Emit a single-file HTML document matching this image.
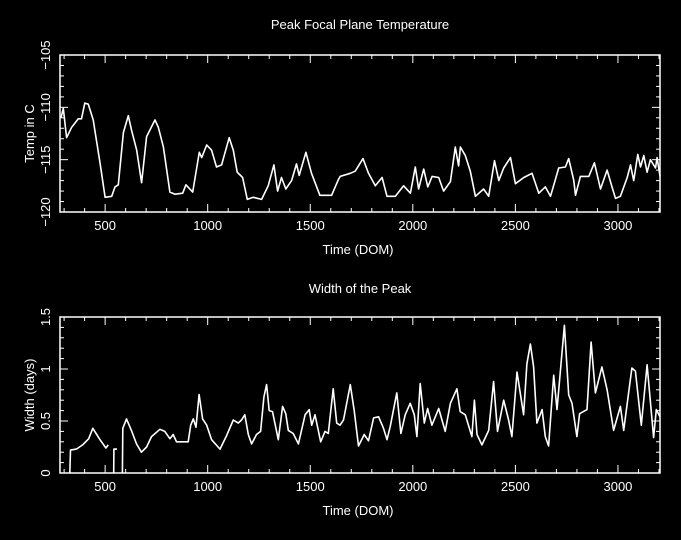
<!DOCTYPE html>
<html><head><meta charset="utf-8"><style>
html,body{margin:0;padding:0;background:#000;}
svg{display:block;font-family:"Liberation Sans","DejaVu Sans",sans-serif;}
</style></head><body>
<svg id="chart" width="681" height="540" xmlns="http://www.w3.org/2000/svg">
<rect width="681" height="540" fill="#000"/>
</svg>
<script>
const tempDom=[285,296,312,337,369,385,401,418,442,475,500,532,548,564,589,613,629,654,678,702,743,759,784,816,841,878,894,927,959,971,995,1019,1043,1068,1105,1125,1144,1170,1193,1222,1263,1295,1323,1341,1360,1381,1409,1433,1446,1479,1506,1547,1604,1637,1646,1695,1719,1757,1784,1817,1850,1874,1915,1955,1988,2012,2028,2053,2073,2094,2126,2150,2183,2207,2223,2232,2256,2280,2305,2345,2370,2398,2419,2443,2476,2500,2541,2581,2614,2646,2671,2711,2744,2760,2785,2793,2817,2858,2885,2915,2947,2971,2988,3012,3045,3061,3077,3097,3110,3126,3142,3158,3183,3191,3205];
const tempVal=[-111.0,-110.1,-112.9,-111.9,-111.1,-111.1,-109.6,-109.7,-111.2,-115.3,-118.6,-118.5,-117.6,-117.4,-112.4,-110.8,-112.2,-114.1,-117.2,-112.8,-111.2,-111.9,-113.8,-118.1,-118.3,-118.2,-117.4,-118.1,-114.3,-114.8,-113.6,-114.1,-115.7,-115.5,-112.9,-114.1,-116.2,-116.7,-118.8,-118.6,-118.8,-117.5,-115.5,-118.0,-116.7,-117.8,-117.0,-115.4,-116.5,-114.3,-116.3,-118.4,-118.4,-116.9,-116.6,-116.3,-116.1,-114.9,-116.3,-117.5,-116.7,-118.5,-118.5,-117.5,-118.2,-115.7,-117.8,-115.9,-117.6,-116.6,-116.7,-118.0,-117.1,-113.8,-115.6,-113.8,-114.6,-116.1,-118.5,-117.8,-118.5,-115.1,-117.0,-115.8,-114.8,-117.3,-116.7,-116.3,-118.2,-117.6,-118.5,-115.8,-115.7,-114.9,-117.0,-118.4,-116.6,-116.6,-115.3,-117.8,-116.0,-117.6,-118.7,-118.5,-116.7,-115.5,-117.0,-114.5,-115.7,-114.6,-116.2,-115.0,-115.8,-114.8,-116.6];
const widthSegDom=[
[328,331,360,390,420,440,475,504,515],
[542,543,558],
[584,586,604,628,653,677,702,726,767,791,816,832,848,905,917,930,943,958,975,995,1019,1060,1092,1125,1149,1165,1181,1198,1214,1238,1258,1274,1287,1300,1316,1344,1365,1381,1393,1417,1442,1475,1495,1507,1523,1551,1572,1588,1604,1612,1629,1645,1662,1695,1714,1735,1763,1784,1809,1833,1857,1874,1890,1922,1942,1963,1987,2007,2020,2036,2056,2072,2093,2126,2158,2183,2215,2231,2256,2288,2300,2313,2337,2370,2394,2413,2443,2467,2483,2508,2540,2556,2573,2589,2605,2630,2646,2662,2687,2703,2739,2760,2776,2800,2813,2849,2869,2890,2922,2947,2979,3012,3028,3052,3068,3085,3114,3142,3161,3174,3187,3205]];
const widthSegVal=[
[0,0.22,0.23,0.27,0.33,0.43,0.32,0.24,0.27],
[0,0.23,0.23],
[0,0.43,0.52,0.41,0.28,0.20,0.25,0.35,0.42,0.40,0.33,0.37,0.30,0.30,0.46,0.52,0.44,0.755,0.52,0.46,0.32,0.23,0.36,0.51,0.48,0.51,0.56,0.37,0.28,0.37,0.40,0.73,0.85,0.60,0.59,0.32,0.64,0.57,0.41,0.38,0.28,0.56,0.61,0.46,0.56,0.30,0.40,0.38,0.67,0.81,0.48,0.46,0.51,0.85,0.60,0.26,0.37,0.31,0.53,0.54,0.43,0.32,0.45,0.77,0.38,0.56,0.67,0.56,0.35,0.86,0.48,0.62,0.46,0.62,0.40,0.67,0.81,0.59,0.56,0.35,0.70,0.37,0.27,0.41,0.88,0.40,0.70,0.51,0.35,0.97,0.56,1.05,1.24,1.02,0.48,0.61,0.35,0.26,0.94,0.61,1.42,0.75,0.67,0.35,0.57,0.61,1.26,0.77,1.02,0.80,0.41,0.64,0.41,0.77,1.01,0.98,0.46,1.04,0.62,0.34,0.61,0.54]];
const xTicks=[500,1000,1500,2000,2500,3000];
const tempTicks=[-120,-115,-110,-105];
const widthTicks=[0,0.5,1,1.5];

const svg=document.getElementById('chart');
const NS='http://www.w3.org/2000/svg';
function mk(tag,attrs,parent){const e=document.createElementNS(NS,tag);for(const k in attrs)e.setAttribute(k,attrs[k]);(parent||svg).appendChild(e);return e;}
const X0=280,X1=3205,L=60,R=660;
const sx=d=>L+(d-X0)/(X1-X0)*(R-L);

function panel(name,top,bot,ymin,ymax,yticks,yminor,title,ytitle,titleY){
  const g=mk('g',{});
  
  
  const sy=v=>bot-(v-ymin)/(ymax-ymin)*(bot-top);
  const fr=mk('rect',{x:L,y:top,width:R-L,height:bot-top,fill:'none',stroke:'#fff','stroke-width':1.5},g);
  
  
  // x ticks
  for(let d=300;d<=3200;d+=100){
    const x=sx(d);const major=d%500===0;const len=major?8:4;
    mk('line',{x1:x,y1:bot,x2:x,y2:bot-len,stroke:'#fff','stroke-width':1},g);
    mk('line',{x1:x,y1:top,x2:x,y2:top+len,stroke:'#fff','stroke-width':1},g);
  }
  xTicks.forEach(d=>{const t=mk('text',{x:sx(d),y:bot+18,fill:'#fff','font-size':13,'text-anchor':'middle'},g);t.textContent=String(d);
    
    });
  // y ticks
  for(let v=ymin;v<=ymax+1e-9;v+=yminor){
    const y=sy(v);const r=Math.abs(Math.round(v/((yticks[1]-yticks[0])))*(yticks[1]-yticks[0])-v)<1e-6;const len=r?8:4;
    mk('line',{x1:L,y1:y,x2:L+len,y2:y,stroke:'#fff','stroke-width':1},g);
    mk('line',{x1:R,y1:y,x2:R-len,y2:y,stroke:'#fff','stroke-width':1},g);
  }
  yticks.forEach(v=>{const y=sy(v);const t=mk('text',{x:0,y:0,fill:'#fff','font-size':13,'text-anchor':'middle',transform:`translate(50,${y}) rotate(-90)`},g);
    t.textContent=(v<0?'\u2212':'')+String(Math.abs(v));
    
    });
  const tt=mk('text',{x:360,y:titleY,fill:'#fff','font-size':13,'text-anchor':'middle'},g);tt.textContent=title;
  
  
  const xt=mk('text',{x:358,y:bot+42,fill:'#fff','font-size':13,'text-anchor':'middle'},g);xt.textContent='Time (DOM)';
  
  
  const yt=mk('text',{x:0,y:0,fill:'#fff','font-size':13,'text-anchor':'middle',transform:`translate(34,${(top+bot)/2}) rotate(-90)`},g);yt.textContent=ytitle;
  
  
  return sy;
}
const syT=panel('temperature-panel',55,212,-120,-105,tempTicks,1,'Peak Focal Plane Temperature','Temp in C',29);
const syW=panel('width-panel',317,473,0,1.5,widthTicks,0.1,'Width of the Peak','Width (days)',293);

const p1=mk('polyline',{points:tempDom.map((d,i)=>sx(d).toFixed(1)+','+syT(tempVal[i]).toFixed(1)).join(' '),fill:'none',stroke:'#fff','stroke-width':1.6,'stroke-linejoin':'round'});


widthSegDom.forEach((seg,k)=>{
  const p=mk('polyline',{points:seg.map((d,i)=>sx(d).toFixed(1)+','+syW(widthSegVal[k][i]).toFixed(1)).join(' '),fill:'none',stroke:'#fff','stroke-width':1.6,'stroke-linejoin':'round'});
  
  
});
</script>
</body></html>
